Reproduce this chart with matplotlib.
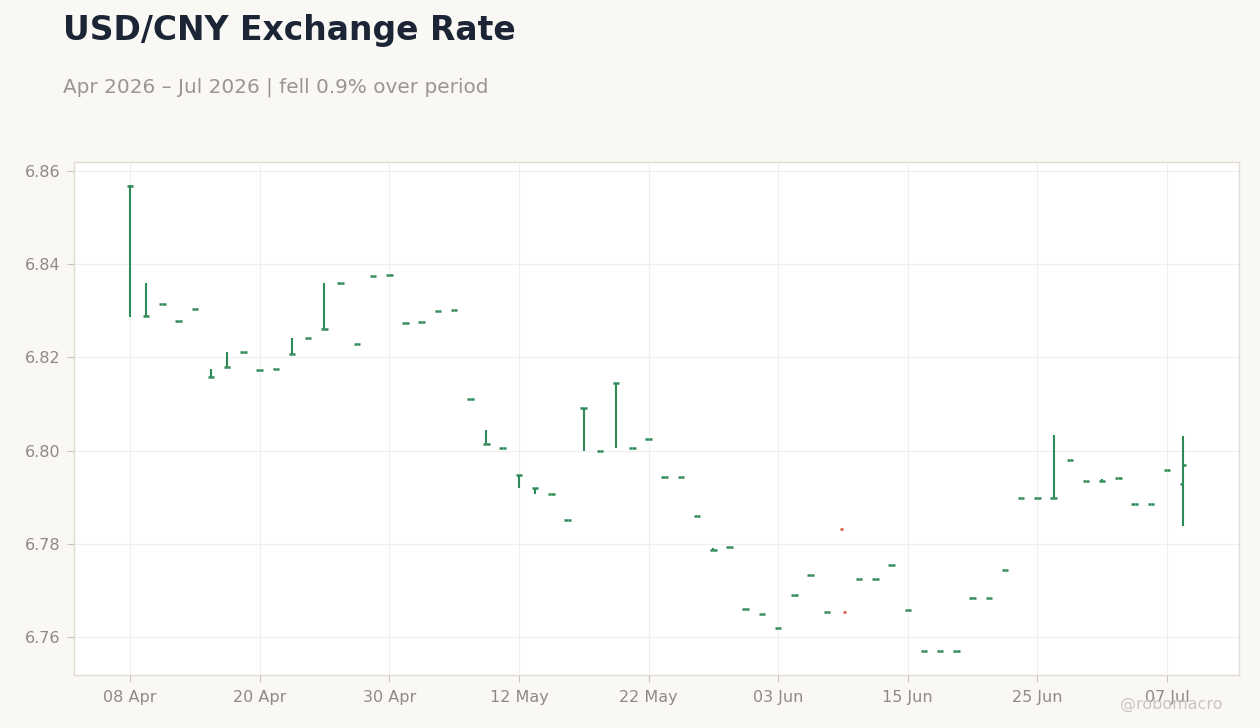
import numpy as np
import pandas as pd
from matplotlib import pyplot as plt

# daily USD/CNY bars, one per business day from 08 Apr 2026
START_DATE = '2026-04-08'
OPEN = [6.8568, 6.8288, 6.8315, 6.8278, 6.8304, 6.8158, 6.8179, 6.8212, 6.8172, 6.8175,
        6.8207, 6.8242, 6.8261, 6.8360, 6.8229, 6.8375, 6.8377, 6.8274, 6.8276, 6.8300,
        6.8302, 6.8111, 6.8014, 6.8006, 6.7948, 6.7920, 6.7907, 6.7851, 6.8091, 6.7999,
        6.8145, 6.8006, 6.8025, 6.7943, 6.7943, 6.7860, 6.7787, 6.7794, 6.7661, 6.7650,
        6.7620, 6.7691, 6.7734, 6.7654, 6.7832, 6.7725, 6.7725, 6.7755, 6.7659, 6.7569,
        6.7571, 6.7571, 6.7684, 6.7684, 6.7744, 6.7899, 6.7899, 6.7899, 6.7980, 6.7935,
        6.7935, 6.7942, 6.7886, 6.7886, 6.7959, 6.7929]
HIGH = [6.8570, 6.8360, 6.8315, 6.8278, 6.8304, 6.8175, 6.8212, 6.8212, 6.8174, 6.8175,
        6.8242, 6.8242, 6.8360, 6.8360, 6.8229, 6.8375, 6.8377, 6.8274, 6.8276, 6.8300,
        6.8302, 6.8111, 6.8044, 6.8006, 6.7948, 6.7920, 6.7907, 6.7851, 6.8091, 6.7999,
        6.8145, 6.8006, 6.8025, 6.7943, 6.7943, 6.7860, 6.7792, 6.7794, 6.7661, 6.7650,
        6.7620, 6.7691, 6.7734, 6.7654, np.nan, 6.7725, 6.7725, 6.7755, 6.7659, 6.7569,
        6.7571, 6.7571, 6.7684, 6.7684, 6.7744, 6.7899, 6.7899, 6.8034, 6.7980, 6.7935,
        6.7940, 6.7942, 6.7886, 6.7886, 6.7959, 6.8031]
LOW = [6.8287, 6.8287, 6.8315, 6.8278, 6.8304, 6.8158, 6.8179, 6.8212, 6.8172, 6.8175,
       6.8207, 6.8242, 6.8261, 6.8360, 6.8229, 6.8375, 6.8377, 6.8274, 6.8276, 6.8300,
       6.8302, 6.8111, 6.8014, 6.8006, 6.7920, 6.7907, 6.7907, 6.7851, 6.8000, 6.7999,
       6.8006, 6.8006, 6.8025, 6.7943, 6.7943, 6.7860, 6.7787, 6.7794, 6.7661, 6.7650,
       6.7620, 6.7691, 6.7734, 6.7654, np.nan, 6.7725, 6.7725, 6.7755, 6.7659, 6.7569,
       6.7571, 6.7571, 6.7684, 6.7684, 6.7744, 6.7899, 6.7899, 6.7899, 6.7980, 6.7935,
       6.7935, 6.7942, 6.7886, 6.7886, 6.7959, 6.7839]
CLOSE = [6.8568, 6.8288, 6.8315, 6.8278, 6.8304, 6.8158, 6.8179, 6.8212, 6.8172, 6.8175,
         6.8207, 6.8242, 6.8261, 6.8360, 6.8229, 6.8375, 6.8377, 6.8274, 6.8276, 6.8300,
         6.8302, 6.8111, 6.8014, 6.8006, 6.7948, 6.7920, 6.7907, 6.7851, 6.8091, 6.7999,
         6.8145, 6.8006, 6.8025, 6.7943, 6.7943, 6.7860, 6.7787, 6.7794, 6.7661, 6.7650,
         6.7620, 6.7691, 6.7734, 6.7654, 6.7654, 6.7725, 6.7725, 6.7755, 6.7659, 6.7569,
         6.7571, 6.7571, 6.7684, 6.7684, 6.7744, 6.7899, 6.7899, 6.7899, 6.7980, 6.7935,
         6.7935, 6.7942, 6.7886, 6.7886, 6.7959, 6.7970]
Y_TICKS = [6.76, 6.78, 6.80, 6.82, 6.84, 6.86]
X_TICK_EVERY = 8

UP = '#2e8b57'
DOWN = '#d4573b'
BG = '#f9f8f5'

df = pd.DataFrame({'open': OPEN, 'high': HIGH, 'low': LOW, 'close': CLOSE})
df.index = pd.bdate_range(START_DATE, periods=len(df))
x = np.arange(len(df))
colors = np.where(df['close'] >= df['open'], UP, DOWN)

fig = plt.figure(figsize=(12.6, 7.28), dpi=100, facecolor=BG)
ax = fig.add_axes([0.0587, 0.0728, 0.9246, 0.7047])
ax.set_facecolor('white')

# high-low stems, then open tick on the left and close tick on the right
has_range = df['high'].notna() & (df['high'] > df['low'])
ax.vlines(x[has_range], df['low'][has_range], df['high'][has_range],
          colors=colors[has_range], linewidth=1.5, zorder=3)
ax.hlines(df['open'], x - 0.2, x, colors=colors, linewidth=1.8, zorder=3)
ax.hlines(df['close'], x, x + 0.2, colors=colors, linewidth=1.8, zorder=3)

ax.set_xlim(-3.46, 68.44)
ax.set_ylim(6.75185, 6.86193)
ax.set_yticks(Y_TICKS)
ax.set_yticklabels(['%.2f' % v for v in Y_TICKS])
ax.set_xticks(x[::X_TICK_EVERY])
ax.set_xticklabels([d.strftime('%d %b') for d in df.index[::X_TICK_EVERY]])

ax.grid(True, color='#efefef', linewidth=0.8)
ax.set_axisbelow(True)
for s in ax.spines.values():
    s.set_color('#e0dbd3')
    s.set_linewidth(1.0)
ax.tick_params(colors='#c8c3bc', labelcolor='#8f8a85', labelsize=11.5, length=5)
ax.tick_params(axis='x', pad=5.5)
ax.tick_params(axis='y', pad=5)

first, last = df['close'].iloc[0], df['close'].iloc[-1]
pct = (last - first) / first * 100
word = 'fell' if pct < 0 else 'rose'
fig.text(0.05, 0.945, 'USD/CNY Exchange Rate', fontsize=23.8, fontweight='bold',
         color='#1b2535', va='baseline')
fig.text(0.05, 0.8736, '%s – %s | %s %.1f%% over period' % (
    df.index[0].strftime('%b %Y'), df.index[-1].strftime('%b %Y'), word, abs(pct)),
    fontsize=14.4, color='#9a9590', va='baseline')
fig.text(0.970, 0.026, '@robomacro', fontsize=11.5, color='#c9c5c0', ha='right',
         va='baseline')

fig.savefig('out.png', dpi=100, facecolor=BG)
